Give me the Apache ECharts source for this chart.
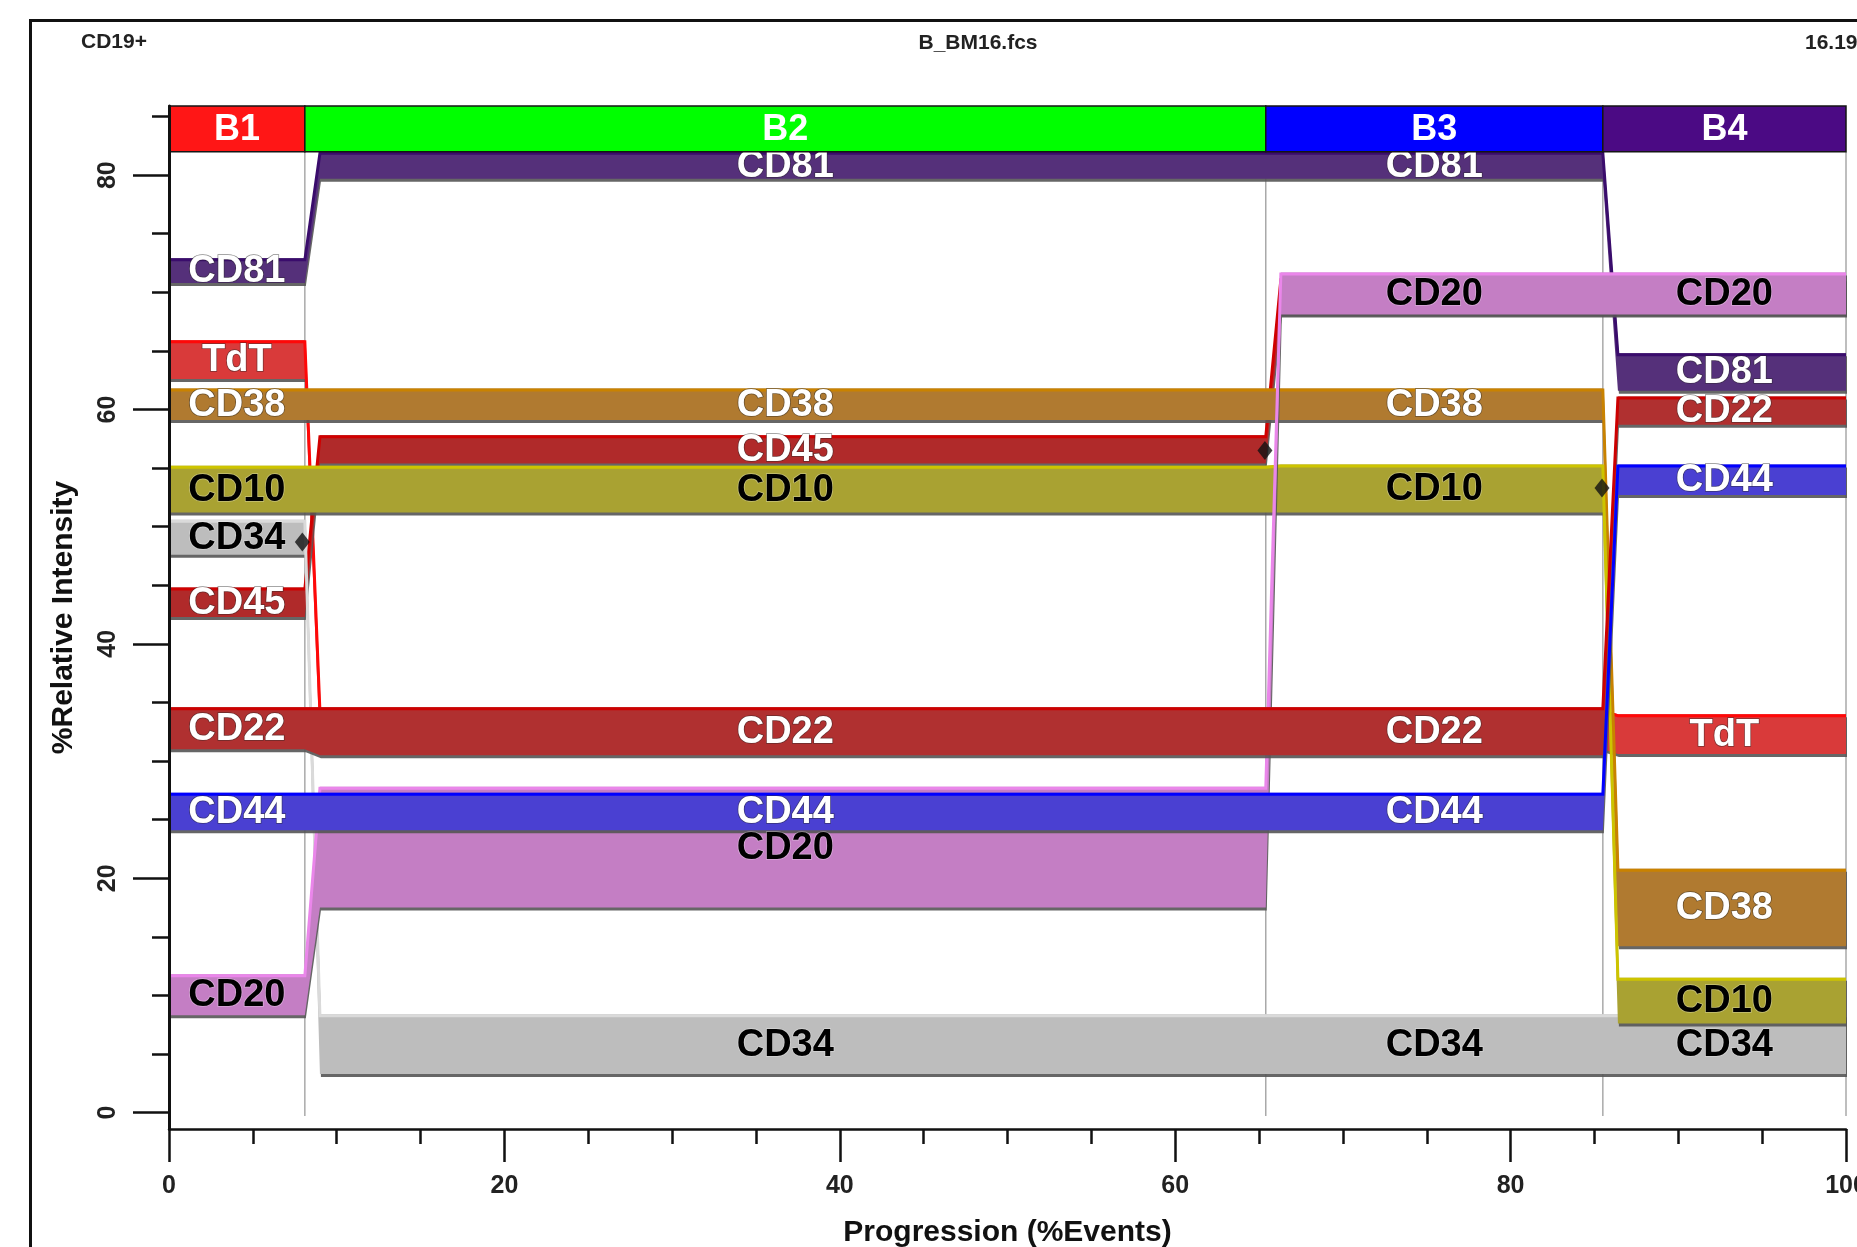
<!DOCTYPE html>
<html><head><meta charset="utf-8">
<script src="https://cdn.jsdelivr.net/npm/echarts@6/dist/echarts.min.js"></script>
<style>html,body{margin:0;padding:0;background:#fff}#c{width:1857px;height:1247px}</style>
</head><body><div id="c"></div>
<script>
// ---- data ----
const stageNames = ['B1', 'B2', 'B3', 'B4'];
const stageBounds = [0, 8.1, 65.4, 85.5, 100];
const stageBandRange = [82.0, 85.9];

const markerNames = ['TdT', 'CD45', 'CD34', 'CD38', 'CD10', 'CD81', 'CD20', 'CD22', 'CD44'];
const tdtLow   = [62.6, 31.0, 31.0, 30.6];
const tdtHigh  = [65.9, 34.4, 34.4, 34.0];
const cd45Low  = [42.3, 55.4, 68.2, 68.2];
const cd45High = [44.8, 57.8, 71.2, 71.2];
const cd34Low  = [47.6, 3.3, 3.3, 3.3];
const cd34High = [50.6, 8.4, 8.4, 8.4];
const cd38Low  = [59.1, 59.1, 59.1, 14.2];
const cd38High = [61.8, 61.8, 61.8, 20.8];
const cd10Low  = [51.2, 51.2, 51.2, 7.6];
const cd10High = [55.2, 55.2, 55.3, 11.5];
const cd81Low  = [70.8, 79.7, 79.7, 61.6];
const cd81High = [72.9, 82.0, 82.0, 64.8];
const cd20Low  = [8.3, 17.5, 68.1, 68.1];
const cd20High = [11.8, 27.8, 71.7, 71.7];
const cd22Low  = [31.0, 30.5, 30.5, 58.7];
const cd22High = [34.6, 34.6, 34.6, 61.1];
const cd44Low  = [24.1, 24.1, 24.1, 52.7];
const cd44High = [27.3, 27.3, 27.3, 55.3];
// which stage labels are visible (hidden ones sit under another band)
const tdtLabelShown  = [1, 0, 0, 1];
const cd45LabelShown = [1, 1, 0, 0];
const allLabelShown  = [1, 1, 1, 1];

const anchorX = [7.95, 65.35, 85.45];
const anchorY = [48.7, 56.5, 53.3];

const xMajorTicks = [0, 20, 40, 60, 80, 100];
const yMajorTicks = [0, 20, 40, 60, 80];
const yMinorTicks = [0, 5, 10, 15, 20, 25, 30, 35, 40, 45, 50, 55, 60, 65, 70, 75, 80, 85];

// ---- styles ----
const FONT = '"Liberation Sans", Arial, sans-serif';
const TRANS = 0.9;
const stageColors = ['#ff1616', '#00ff00', '#0000ff', '#4b0a84'];
const markerStyle = {
  TdT:  {fill: '#d93a3a', edge: '#ff0808', text: '#fff'},
  CD45: {fill: '#b02a2a', edge: '#d00000', text: '#fff'},
  CD34: {fill: '#bdbdbd', edge: '#dadada', text: '#000'},
  CD38: {fill: '#b07a30', edge: '#c98200', text: '#fff'},
  CD10: {fill: '#a9a232', edge: '#cdc400', text: '#000'},
  CD81: {fill: '#55307a', edge: '#3a0c6c', text: '#fff'},
  CD20: {fill: '#c47ec4', edge: '#ea86ea', text: '#000'},
  CD22: {fill: '#b03030', edge: '#cc0000', text: '#fff'},
  CD44: {fill: '#4a40d2', edge: '#0000ff', text: '#fff'}
};
const markerData = {
  TdT: [tdtLow, tdtHigh, tdtLabelShown],
  CD45: [cd45Low, cd45High, cd45LabelShown],
  CD34: [cd34Low, cd34High, allLabelShown],
  CD38: [cd38Low, cd38High, allLabelShown],
  CD10: [cd10Low, cd10High, allLabelShown],
  CD81: [cd81Low, cd81High, allLabelShown],
  CD20: [cd20Low, cd20High, allLabelShown],
  CD22: [cd22Low, cd22High, allLabelShown],
  CD44: [cd44Low, cd44High, allLabelShown]
};

function bandSeries(name, z) {
  const lo = markerData[name][0], hi = markerData[name][1];
  const st = markerStyle[name];
  return {
    type: 'custom', name: name, z: z, silent: true,
    xAxisIndex: 0, yAxisIndex: 0,
    data: [[stageBounds[0], lo[0]]],
    encode: {x: 0, y: 1},
    renderItem: function (params, api) {
      const top = [], bot = [];
      for (let i = 0; i < stageNames.length; i++) {
        const x0 = i === 0 ? stageBounds[0] : stageBounds[i] + TRANS;
        const x1 = stageBounds[i + 1];
        top.push(api.coord([x0, hi[i]]), api.coord([x1, hi[i]]));
        bot.push(api.coord([x0, lo[i]]), api.coord([x1, lo[i]]));
      }
      const poly = top.concat(bot.slice().reverse());
      const edge = top.map(p => [p[0], p[1] + 1.5]);
      return {
        type: 'group', children: [
          {type: 'polygon', shape: {points: poly},
           style: {fill: st.fill, shadowColor: 'rgba(85,85,85,0.9)', shadowOffsetY: 3, shadowOffsetX: 1, shadowBlur: 0}},
          {type: 'polyline', shape: {points: edge},
           style: {stroke: st.edge, lineWidth: 3, fill: null}}
        ]
      };
    }
  };
}

const labelItems = [];
markerNames.forEach(name => {
  const lo = markerData[name][0], hi = markerData[name][1], shown = markerData[name][2];
  for (let i = 0; i < stageNames.length; i++) {
    if (shown[i]) labelItems.push([(stageBounds[i] + stageBounds[i + 1]) / 2, (lo[i] + hi[i]) / 2, name]);
  }
});

const series = [];
// stage boundary lines
series.push({
  type: 'custom', z: 1, silent: true,
  data: stageBounds.slice(1).map(b => [b, 0]),
  encode: {x: 0, y: 1},
  renderItem: function (params, api) {
    const p0 = api.coord([api.value(0), -0.3]);
    const p1 = api.coord([api.value(0), stageBandRange[0]]);
    return {type: 'line', shape: {x1: p0[0], y1: p0[1], x2: p1[0], y2: p1[1]},
            style: {stroke: '#a9a9a9', lineWidth: 1.5}};
  }
});
markerNames.forEach((n, i) => series.push(bandSeries(n, 2 + i)));
series.push({
  type: 'scatter', z: 12, silent: true,
  symbol: 'diamond', symbolSize: [15, 19],
  itemStyle: {color: '#111'},
  data: anchorX.map((x, i) => [x, anchorY[i]])
});
series.push({
  type: 'custom', z: 13, silent: true,
  data: labelItems,
  encode: {x: 0, y: 1},
  renderItem: function (params, api) {
    const p = api.coord([api.value(0), api.value(1)]);
    const name = labelItems[params.dataIndex][2];
    const col = markerStyle[name].text;
    return {type: 'text', x: p[0], y: p[1] + 1,
      style: {text: name, fill: col, font: 'bold 38px ' + FONT, align: 'center', verticalAlign: 'middle',
              stroke: col === '#fff' ? 'rgba(40,40,40,0.55)' : 'rgba(255,255,255,0.35)', lineWidth: 1.5}};
  }
});
series.push({
  type: 'custom', z: 15, silent: true,
  data: stageNames.map((s, i) => [stageBounds[i], stageBandRange[1], stageBounds[i + 1], stageBandRange[0]]),
  encode: {x: [0, 2], y: [1, 3]},
  renderItem: function (params, api) {
    const a = api.coord([api.value(0), api.value(1)]);
    const b = api.coord([api.value(2), api.value(3)]);
    return {type: 'group', children: [
      {type: 'rect', shape: {x: a[0], y: a[1], width: b[0] - a[0], height: b[1] - a[1]},
       style: {fill: stageColors[params.dataIndex], stroke: '#151515', lineWidth: 1.5}},
      {type: 'text', x: (a[0] + b[0]) / 2, y: (a[1] + b[1]) / 2 + 1,
       style: {text: stageNames[params.dataIndex], fill: '#fff', font: 'bold 36px ' + FONT,
               align: 'center', verticalAlign: 'middle'}}
    ]};
  }
});

const axisCol = '#111';
const option = {
  animation: false,
  backgroundColor: '#fff',
  grid: {left: 169, right: 11, top: 106, bottom: 118, outerBoundsMode: 'none', containLabel: false},
  graphic: [
    {type: 'rect', left: 28, top: 18, shape: {width: 1900, height: 1300}, z: 100,
     style: {fill: 'none', stroke: '#111', lineWidth: 3}},
    {type: 'text', left: 81, top: 32, z: 100, style: {text: 'CD19+', font: 'bold 21px ' + FONT, fill: '#222'}},
    {type: 'text', x: 978, y: 43, z: 100, style: {text: 'B_BM16.fcs', font: 'bold 21px ' + FONT, fill: '#222', align: 'center', verticalAlign: 'middle'}},
    {type: 'text', x: 1805, y: 43, z: 100, style: {text: '16.19', font: 'bold 21px ' + FONT, fill: '#222', align: 'left', verticalAlign: 'middle'}}
  ],
  xAxis: [
    {type: 'value', min: 0, max: 100, interval: 20, position: 'bottom', z: 20,
     axisLine: {show: true, onZero: false, lineStyle: {color: axisCol, width: 2.5}},
     axisTick: {show: true, length: 33, lineStyle: {color: axisCol, width: 2.5}, customValues: xMajorTicks},
     axisLabel: {margin: 45, fontSize: 25, fontWeight: 'bold', fontFamily: FONT, color: '#222', customValues: xMajorTicks},
     splitLine: {show: false},
     name: 'Progression (%Events)', nameLocation: 'middle', nameGap: 89,
     nameTextStyle: {fontSize: 30, fontWeight: 'bold', fontFamily: FONT, color: '#111'}},
    {type: 'value', min: 0, max: 100, interval: 5, position: 'bottom', z: 20,
     axisLine: {show: false, onZero: false}, axisTick: {show: true, length: 15, lineStyle: {color: axisCol, width: 2.5}},
     axisLabel: {show: false}, splitLine: {show: false}}
  ],
  yAxis: [
    {type: 'value', min: -1.4, max: 85.9, position: 'left', z: 20,
     axisLine: {show: true, onZero: false, lineStyle: {color: axisCol, width: 3}},
     axisTick: {show: true, length: 36, lineStyle: {color: axisCol, width: 2.5}, customValues: yMajorTicks},
     axisLabel: {rotate: 90, margin: 48, fontSize: 25, fontWeight: 'bold', fontFamily: FONT, color: '#222', customValues: yMajorTicks},
     splitLine: {show: false},
     name: '%Relative Intensity', nameLocation: 'middle', nameGap: 90,
     nameTextStyle: {fontSize: 30, fontWeight: 'bold', fontFamily: FONT, color: '#111'}},
    {type: 'value', min: -1.4, max: 85.9, position: 'left', z: 20,
     axisLine: {show: false, onZero: false},
     axisTick: {show: true, length: 17, lineStyle: {color: axisCol, width: 2.5}, customValues: yMinorTicks},
     axisLabel: {show: false}, splitLine: {show: false}}
  ],
  series: series
};
const chart = echarts.init(document.getElementById('c'), null, {renderer: 'canvas'});
chart.setOption(option);
</script></body></html>
